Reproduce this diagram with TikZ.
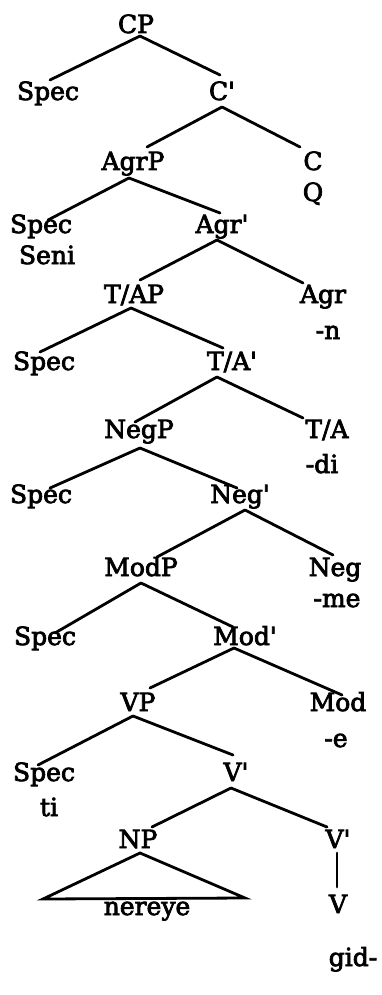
\documentclass[tikz,border=0pt]{standalone}
\usepackage{fontspec}
\setmainfont{DejaVu Serif}[Ligatures=TeXOff,FakeBold=3]
\begin{document}
\begin{tikzpicture}[x=1pt,y=-1pt,
  lbl/.style={anchor=base,inner sep=0pt,font=\fontsize{25}{28}\selectfont},
  br/.style={line width=2.8pt,line cap=round}]
\useasboundingbox (0,0) rectangle (382,995);
% nodes
\node[lbl] (cp) at (136,33) {CP};
\node[lbl] (spec1) at (48,100) {Spec};
\node[lbl] (cbar) at (222,100) {C'};
\node[lbl] (agrp) at (133,170) {AgrP};
\node[lbl] (c) at (313,170) {C};
\node[lbl] (q) at (313,201) {Q};
\node[lbl] (spec2) at (41,233) {Spec};
\node[lbl] (agrbar) at (222,233) {Agr'};
\node[lbl] (seni) at (47,264) {Seni};
\node[lbl] (tap) at (134,303) {T/AP};
\node[lbl] (agr) at (323,303) {Agr};
\node[lbl] (n) at (328,339) {-n};
\node[lbl] (spec3) at (44,370) {Spec};
\node[lbl] (tabar) at (232,370) {T/A'};
\node[lbl] (negp) at (139,438) {NegP};
\node[lbl] (ta) at (327,438) {T/A};
\node[lbl] (di) at (322,473) {-di};
\node[lbl] (spec4) at (41,503) {Spec};
\node[lbl] (negbar) at (240,503) {Neg'};
\node[lbl] (modp) at (141,576) {ModP};
\node[lbl] (neg) at (335,576) {Neg};
\node[lbl] (me) at (337,607) {-me};
\node[lbl] (spec5) at (45,645) {Spec};
\node[lbl] (modbar) at (245,645) {Mod'};
\node[lbl] (vp) at (138,711) {VP};
\node[lbl] (mod) at (338,711) {Mod};
\node[lbl] (e) at (336,747) {-e};
\node[lbl] (spec6) at (44,781) {Spec};
\node[lbl] (vbar) at (236,781) {V'};
\node[lbl] (ti) at (49,816) {ti};
\node[lbl] (np) at (138,848) {NP};
\node[lbl] (vbar2) at (338,848) {V'};
\node[lbl] (v) at (338,913) {V};
\node[lbl] (nereye) at (147,915) {nereye};
\node[lbl] (gid) at (353,966) {gid-};
% branches
\draw[br] ([shift={(4,3)}]cp.base) -- ([shift={(2,-20)}]spec1.base);
\draw[br] ([shift={(4,3)}]cp.base) -- ([shift={(-2,-25)}]cbar.base);
\draw[br] ([shift={(0,7)}]cbar.base) -- ([shift={(14,-23)}]agrp.base);
\draw[br] ([shift={(0,7)}]cbar.base) -- ([shift={(-13,-23)}]c.base);
\draw[br] ([shift={(-4,8)}]agrp.base) -- ([shift={(7,-13)}]spec2.base);
\draw[br] ([shift={(-4,8)}]agrp.base) -- ([shift={(-2,-20)}]agrbar.base);
\draw[br] ([shift={(-5,7)}]agrbar.base) -- ([shift={(6,-23)}]tap.base);
\draw[br] ([shift={(-5,7)}]agrbar.base) -- ([shift={(-20,-20)}]agr.base);
\draw[br] ([shift={(-3,5)}]tap.base) -- ([shift={(-4,-18)}]spec3.base);
\draw[br] ([shift={(-3,5)}]tap.base) -- ([shift={(-9,-22)}]tabar.base);
\draw[br] ([shift={(-15,7)}]tabar.base) -- ([shift={(-4,-16)}]negp.base);
\draw[br] ([shift={(-15,7)}]tabar.base) -- ([shift={(-24,-20)}]ta.base);
\draw[br] ([shift={(1,10)}]negp.base) -- ([shift={(9,-15)}]spec4.base);
\draw[br] ([shift={(1,10)}]negp.base) -- ([shift={(-3,-15)}]negbar.base);
\draw[br] ([shift={(5,7)}]negbar.base) -- ([shift={(16,-19)}]modp.base);
\draw[br] ([shift={(5,7)}]negbar.base) -- ([shift={(-2,-21)}]neg.base);
\draw[br] ([shift={(0,7)}]modp.base) -- ([shift={(10,-12)}]spec5.base);
\draw[br] ([shift={(0,7)}]modp.base) -- ([shift={(-12,-18)}]modbar.base);
\draw[br] ([shift={(-11,3)}]modbar.base) -- ([shift={(12,-23)}]vp.base);
\draw[br] ([shift={(-11,3)}]modbar.base) -- ([shift={(4,-16)}]mod.base);
\draw[br] ([shift={(-5,5)}]vp.base) -- ([shift={(-6,-16)}]spec6.base);
\draw[br] ([shift={(-5,5)}]vp.base) -- ([shift={(-3,-26)}]vbar.base);
\draw[br] ([shift={(-5,7)}]vbar.base) -- ([shift={(14,-21)}]np.base);
\draw[br] ([shift={(-5,7)}]vbar.base) -- ([shift={(-11,-21)}]vbar2.base);
\draw[br] ([shift={(-1,5)}]vbar2.base) -- ([shift={(-1,-26)}]v.base);
\draw[br,line join=miter] ([shift={(2,5)}]np.base) -- ([shift={(-104,-16)}]nereye.base) -- ([shift={(98,-17)}]nereye.base) -- cycle;
\end{tikzpicture}
\end{document}
